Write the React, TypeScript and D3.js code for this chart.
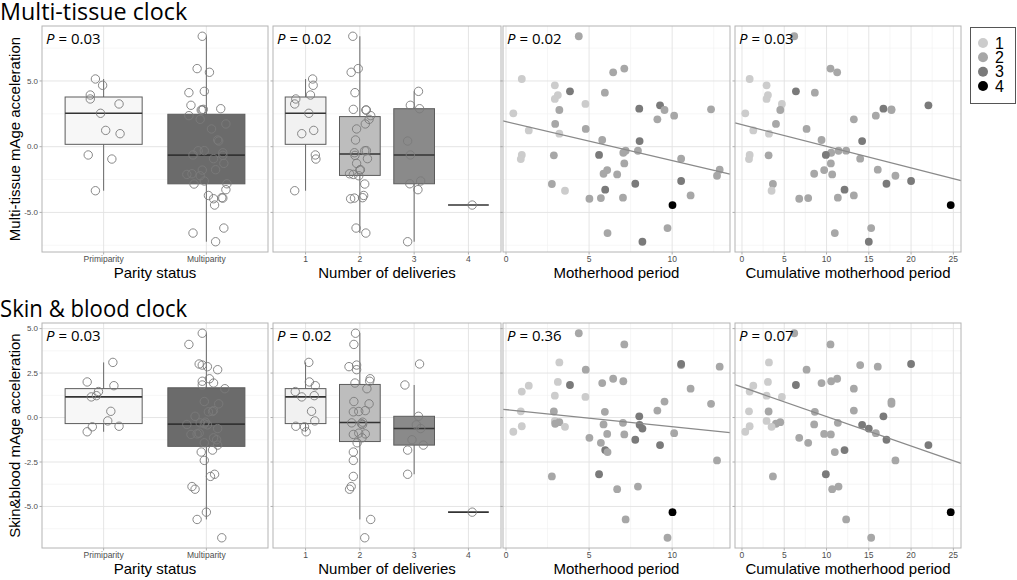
import React from 'react';
import * as d3 from 'd3';

// one entry per woman (same order in every array)
const motherhoodPeriod = [4.38, 7.12, 6.45, 0.95, 2.94, 3.85, 5.95, 3.12, 2.94, 4.78, 9.27, 8.02, 9.54, 12.34, 3.21, 0.44, 10.12, 9.11, 2.96, 1.37, 4.80, 3.21, 5.79, 8.04, 7.20, 7.06, 7.94, 5.60, 2.88, 0.95, 0.89, 10.54, 7.12, 6.09, 5.87, 6.69, 12.86, 12.70, 10.54, 7.78, 2.76, 5.97, 3.55, 11.11, 5.02, 5.71, 7.04, 10.02, 9.72, 6.11, 8.21];
const cumulativePeriod = [6.18, 10.47, 11.26, 0.91, 2.91, 6.38, 8.62, 3.07, 2.91, 4.72, 22.05, 16.73, 17.68, 17.68, 4.53, 0.39, 15.83, 13.23, 4.02, 1.34, 7.64, 3.19, 9.41, 14.21, 12.32, 10.55, 11.42, 9.92, 3.15, 0.91, 0.83, 13.98, 10.51, 9.72, 8.54, 10.67, 16.06, 18.15, 20.0, 17.09, 3.66, 12.13, 3.5, 13.23, 6.77, 7.83, 11.34, 24.69, 15.28, 10.98, 15.0];
const deliveries = [2, 2, 2, 1, 1, 3, 2, 1, 1, 1, 3, 3, 2, 2, 2, 1, 2, 2, 2, 1, 2, 1, 2, 3, 2, 2, 2, 3, 2, 1, 1, 2, 2, 2, 2, 2, 2, 2, 3, 3, 2, 3, 1, 2, 2, 2, 2, 4, 2, 2, 3];
const multiTissueAccel = [8.40, 5.94, 5.66, 5.15, 4.67, 4.21, 4.11, 3.93, 3.63, 3.25, 3.15, 2.89, 2.79, 2.84, 2.79, 2.54, 2.36, 2.08, 1.73, 1.24, 1.35, 0.99, 0.51, 0.43, -0.30, -0.46, -0.31, -0.63, -0.66, -0.63, -0.94, -0.91, -1.27, -1.78, -2.06, -2.11, -1.75, -2.21, -2.61, -2.82, -2.84, -3.27, -3.35, -3.71, -3.96, -3.91, -3.88, -4.44, -6.19, -6.57, -7.23];
const skinBloodAccel = [4.74, 4.11, 2.18, 1.46, 1.23, 1.83, 0.32, 2.00, -0.19, 1.16, -1.55, 0.07, 0.90, 0.77, -0.26, -0.80, -0.88, 0.39, -0.35, 1.79, 2.69, 3.10, 1.94, -0.41, -5.73, 2.04, -3.88, -3.19, 0.34, -0.49, 0.35, 2.95, -0.95, -0.92, -0.39, -4.03, 2.86, -2.41, 3.01, -1.25, -3.31, -1.83, -0.52, 1.62, -1.14, -1.42, -0.30, -5.32, -6.76, -1.94, -0.62];

// horizontal jitter of the open circles (in category units), read off the picture
const jitterParityTop = [-0.04, -0.09, 0.03, -0.08, -0.01, -0.02, -0.17, -0.13, -0.13, 0.15, -0.15, 0.14, -0.05, -0.03, -0.04, -0.03, -0.17, -0.06, 0.19, 0.02, 0.05, 0.16, 0.11, 0.12, -0.02, 0.16, -0.08, -0.13, 0.16, -0.15, 0.08, 0.07, 0.17, -0.04, -0.14, -0.19, 0.09, -0.06, -0.02, 0.2, -0.12, 0.19, -0.08, 0.02, 0.07, 0.16, 0.15, 0.08, 0.17, -0.13, 0.09];
const jitterDeliveryTop = [-0.13, -0.03, -0.16, 0.13, 0.14, 0.08, -0.09, 0.09, -0.18, -0.2, -0.07, 0.1, 0.12, -0.12, 0.11, 0.06, 0.2, 0.17, 0.1, 0.15, -0.06, -0.07, -0.08, -0.12, 0.12, -0.1, 0.09, -0.07, -0.09, 0.18, 0.19, 0.14, -0.06, 0, -0.19, -0.12, 0.01, -0.02, 0.12, -0.08, 0.09, 0.07, -0.2, 0.07, -0.17, -0.1, 0.05, 0.07, -0.07, 0.11, -0.12];
const jitterParityBottom = [-0.04, -0.17, 0.03, -0.05, -0.07, -0.04, 0.02, -0.16, 0.04, -0.12, 0.11, -0.11, -0.02, 0.12, -0.01, -0.16, -0.07, 0.07, -0.02, 0.1, 0.11, 0.09, 0.07, 0.01, -0.09, -0.04, -0.14, 0.08, 0.06, 0.15, 0.07, -0.04, -0.15, -0.09, -0.19, -0.11, 0.01, -0.02, -0.07, 0.1, 0.04, 0.06, -0.11, 0.18, 0.07, -0.02, -0.06, 0, 0.15, -0.05, 0.11];
const jitterDeliveryBottom = [-0.08, -0.11, 0.19, -0.19, 0.16, -0.17, -0.12, 0.07, 0.17, -0.07, 0.17, 0.08, -0.11, 0.17, 0.05, 0.01, -0.02, 0.1, 0.03, 0.18, -0.06, 0.06, -0.09, 0.04, 0.2, 0.18, -0.16, -0.12, -0.02, -0.18, 0.11, -0.06, -0.12, 0.1, 0.05, -0.19, -0.2, -0.12, 0.1, -0.04, -0.12, -0.12, -0.02, 0.13, 0.04, -0.05, -0.15, 0.07, 0.09, -0.12, 0.12];

// fitted lines as drawn in the figure: [intercept, slope] for motherhood / cumulative panels
const fitMultiTissue = [[1.907, -0.2961], [1.673, -0.1639]];
const fitSkinBlood = [[0.446, -0.0963], [1.710, -0.1653]];

const parityLabels = ['Primiparity', 'Multiparity'];
const deliveryLabels = ['1', '2', '3', '4'];
const pMultiTissue = ['0.03', '0.02', '0.02', '0.03'];
const pSkinBlood = ['0.03', '0.02', '0.36', '0.07'];
const yTicksMulti = [-5, 0, 5];
const yTicksSkin = [-5, -2.5, 0, 2.5, 5];
const xTicksMotherhood = [0, 5, 10];
const xTicksCumulative = [0, 5, 10, 15, 20, 25];
const xTitles = ['Parity status', 'Number of deliveries', 'Motherhood period', 'Cumulative motherhood period'];

const parityFill = ['#f7f7f7', '#6b6b6b'];
const deliveryFill = ['#f1f1f1', '#bdbdbd', '#8a8a8a', '#444444'];
const pointColor = ['#cccccc', '#a7a7a7', '#7a7a7a', '#000000'];

const COLS: [number, number][] = [[42, 268], [273, 501], [503, 730], [735, 961]];
const AXIS_FONT = '"Liberation Sans", Arial, sans-serif';
const TITLE_FONT = '"Open Sans", "Noto Sans", sans-serif';
const GRID_MAJOR = '#e2e2e2';
const GRID_MINOR = '#f0f0f0';
const BORDER = '#b4b4b4';
const TICK_TEXT = '#4d4d4d';

const expand = (ext: [number, number], m = 0.05): [number, number] => {
  const r = ext[1] - ext[0];
  return [ext[0] - r * m, ext[1] + r * m];
};

const minorTicks = (ticks: number[], domain: number[]) => {
  const step = ticks[1] - ticks[0];
  const out: number[] = [];
  for (let t = ticks[0] - step / 2; t <= domain[1]; t += step) {
    if (t >= domain[0]) out.push(t);
  }
  return out;
};

function boxStats(vals: number[]) {
  const v = [...vals].sort(d3.ascending);
  const q1 = d3.quantile(v, 0.25)!;
  const med = d3.quantile(v, 0.5)!;
  const q3 = d3.quantile(v, 0.75)!;
  const iqr = q3 - q1;
  const lo = d3.min(v.filter(d => d >= q1 - 1.5 * iqr))!;
  const hi = d3.max(v.filter(d => d <= q3 + 1.5 * iqr))!;
  return { q1, med, q3, lo, hi };
}

interface RowProps {
  title: string;
  yLabel: string;
  values: number[];
  jitterParity: number[];
  jitterDelivery: number[];
  fits: number[][];
  pvals: string[];
  yTicks: number[];
  top: number;
  bottom: number;
}

const PLabel = ({ x, y, p }: { x: number; y: number; p: string }) => (
  <text x={x} y={y} fontFamily={TITLE_FONT} fontSize={15} fill="#000">
    <tspan fontStyle="italic">P</tspan>
    <tspan> = {p}</tspan>
  </text>
);

const Row: React.FC<RowProps> = ({ title, yLabel, values, jitterParity, jitterDelivery, fits, pvals, yTicks, top, bottom }) => {
  const y = d3.scaleLinear().domain(expand(d3.extent(values) as [number, number])).range([bottom, top]);
  const yMinor = minorTicks(yTicks, y.domain());

  const panelFrame = (c: number, xMajor: number[], xMinor: number[], xs: (v: number) => number) => {
    const [x0, x1] = COLS[c];
    return (
      <g>
        <rect x={x0} y={top} width={x1 - x0} height={bottom - top} fill="#fff" />
        {yMinor.map(t => <line key={'ym' + t} x1={x0} x2={x1} y1={y(t)} y2={y(t)} stroke={GRID_MINOR} strokeWidth={0.6} />)}
        {xMinor.map(t => <line key={'xm' + t} x1={xs(t)} x2={xs(t)} y1={top} y2={bottom} stroke={GRID_MINOR} strokeWidth={0.6} />)}
        {yTicks.map(t => <line key={'yM' + t} x1={x0} x2={x1} y1={y(t)} y2={y(t)} stroke={GRID_MAJOR} strokeWidth={0.9} />)}
        {xMajor.map(t => <line key={'xM' + t} x1={xs(t)} x2={xs(t)} y1={top} y2={bottom} stroke={GRID_MAJOR} strokeWidth={0.9} />)}
        {yTicks.map(t => <line key={'yt' + t} x1={x0 - 2.5} x2={x0} y1={y(t)} y2={y(t)} stroke="#999" strokeWidth={0.8} />)}
        {xMajor.map(t => <line key={'xt' + t} x1={xs(t)} x2={xs(t)} y1={bottom} y2={bottom + 2.5} stroke="#999" strokeWidth={0.8} />)}
      </g>
    );
  };

  const boxPanel = (c: number, labels: string[], groupOf: (i: number) => number, fills: string[], jitter: number[]) => {
    const [x0, x1] = COLS[c];
    const x = d3.scaleLinear().domain([0.4, labels.length + 0.6]).range([x0, x1]);
    const cats = labels.map((_, i) => i + 1);
    const half = 0.375;
    return (
      <g key={'box' + c}>
        {panelFrame(c, cats, [], x)}
        {labels.map((lab, g) => {
          const vals = values.filter((_, i) => groupOf(i) === g);
          if (!vals.length) return null;
          const s = boxStats(vals);
          const cx = x(g + 1);
          const bl = x(g + 1 - half), br = x(g + 1 + half);
          return (
            <g key={lab}>
              <line x1={cx} x2={cx} y1={y(s.hi)} y2={y(s.q3)} stroke="#6a6a6a" strokeWidth={1} />
              <line x1={cx} x2={cx} y1={y(s.q1)} y2={y(s.lo)} stroke="#6a6a6a" strokeWidth={1} />
              {s.q3 > s.q1 && (
                <rect x={bl} y={y(s.q3)} width={br - bl} height={y(s.q1) - y(s.q3)} fill={fills[g]} stroke="#5c5c5c" strokeWidth={1} />
              )}
              <line x1={bl} x2={br} y1={y(s.med)} y2={y(s.med)} stroke="#333" strokeWidth={1.6} />
            </g>
          );
        })}
        {values.map((v, i) => (
          <circle key={i} cx={x(groupOf(i) + 1 + jitter[i])} cy={y(v)} r={4.2} fill="none" stroke="#7a7a7a" strokeWidth={0.9} />
        ))}
        <rect x={x0} y={top} width={x1 - x0} height={bottom - top} fill="none" stroke={BORDER} strokeWidth={1} />
        {labels.map((lab, g) => (
          <text key={'xl' + lab} x={x(g + 1)} y={bottom + 10} textAnchor="middle" fontFamily={AXIS_FONT} fontSize={8.5} fill={TICK_TEXT}>{lab}</text>
        ))}
      </g>
    );
  };

  const scatterPanel = (c: number, xsData: number[], xTicks: number[], fit: number[]) => {
    const [x0, x1] = COLS[c];
    const x = d3.scaleLinear().domain(expand(d3.extent(xsData) as [number, number])).range([x0, x1]);
    const [d0, d1] = x.domain();
    const line = d3.line<number>().x(d => x(d)).y(d => y(fit[0] + fit[1] * d));
    return (
      <g key={'sc' + c}>
        {panelFrame(c, xTicks, minorTicks(xTicks, x.domain()), x)}
        {values.map((v, i) => (
          <circle key={i} cx={x(xsData[i])} cy={y(v)} r={3.9} fill={pointColor[deliveries[i] - 1]} />
        ))}
        <path d={line([d0, d1]) || ''} stroke="#8a8a8a" strokeWidth={1.3} fill="none" />
        <rect x={x0} y={top} width={x1 - x0} height={bottom - top} fill="none" stroke={BORDER} strokeWidth={1} />
        {xTicks.map(t => (
          <text key={'xl' + t} x={x(t)} y={bottom + 10} textAnchor="middle" fontFamily={AXIS_FONT} fontSize={8.5} fill={TICK_TEXT}>{t}</text>
        ))}
      </g>
    );
  };

  return (
    <g>
      <text x={0} y={top - 6} fontFamily={TITLE_FONT} fontSize={24.5} textLength={title.length * 10.4} lengthAdjust="spacingAndGlyphs" fill="#000">{title}</text>
      {boxPanel(0, parityLabels, i => (deliveries[i] === 1 ? 0 : 1), parityFill, jitterParity)}
      {boxPanel(1, deliveryLabels, i => deliveries[i] - 1, deliveryFill, jitterDelivery)}
      {scatterPanel(2, motherhoodPeriod, xTicksMotherhood, fits[0])}
      {scatterPanel(3, cumulativePeriod, xTicksCumulative, fits[1])}
      {COLS.map((c, k) => <PLabel key={'p' + k} x={c[0] + 4} y={top + 18} p={pvals[k]} />)}
      {yTicks.map(t => (
        <text key={'yl' + t} x={COLS[0][0] - 4} y={y(t)} dy="0.33em" textAnchor="end" fontFamily={AXIS_FONT} fontSize={8} fill={TICK_TEXT}>{t.toFixed(1)}</text>
      ))}
      <text transform={`translate(20,${(top + bottom) / 2}) rotate(-90)`} textAnchor="middle" fontFamily={AXIS_FONT} fontSize={15} fill="#000">{yLabel}</text>
      {xTitles.map((t, k) => (
        <text key={t} x={(COLS[k][0] + COLS[k][1]) / 2} y={bottom + 25.5} textAnchor="middle" fontFamily={AXIS_FONT} fontSize={15} fill="#000">{t}</text>
      ))}
    </g>
  );
};

const Legend = () => {
  const items = [1, 2, 3, 4];
  const ly = d3.scalePoint<number>().domain(items).range([43, 86]);
  return (
    <g>
      <rect x={970.5} y={27.5} width={45} height={76} fill="#fff" stroke="#555" strokeWidth={1} />
      {items.map(d => (
        <g key={d}>
          <circle cx={983} cy={ly(d)} r={5} fill={pointColor[d - 1]} />
          <text x={995} y={ly(d)} dy="0.36em" fontFamily={AXIS_FONT} fontSize={16} fill="#000">{d}</text>
        </g>
      ))}
    </g>
  );
};

export default function App() {
  return (
    <svg width={1017} height={580} style={{ position: 'absolute', left: 0, top: 0, background: '#fff' }}>
      <rect width={1017} height={580} fill="#fff" />
      <Row
        title="Multi-tissue clock"
        yLabel="Multi-tissue mAge acceleration"
        values={multiTissueAccel}
        jitterParity={jitterParityTop}
        jitterDelivery={jitterDeliveryTop}
        fits={fitMultiTissue}
        pvals={pMultiTissue}
        yTicks={yTicksMulti}
        top={26}
        bottom={252}
      />
      <Row
        title="Skin & blood clock"
        yLabel="Skin&blood mAge acceleration"
        values={skinBloodAccel}
        jitterParity={jitterParityBottom}
        jitterDelivery={jitterDeliveryBottom}
        fits={fitSkinBlood}
        pvals={pSkinBlood}
        yTicks={yTicksSkin}
        top={323}
        bottom={548}
      />
      <Legend />
    </svg>
  );
}
